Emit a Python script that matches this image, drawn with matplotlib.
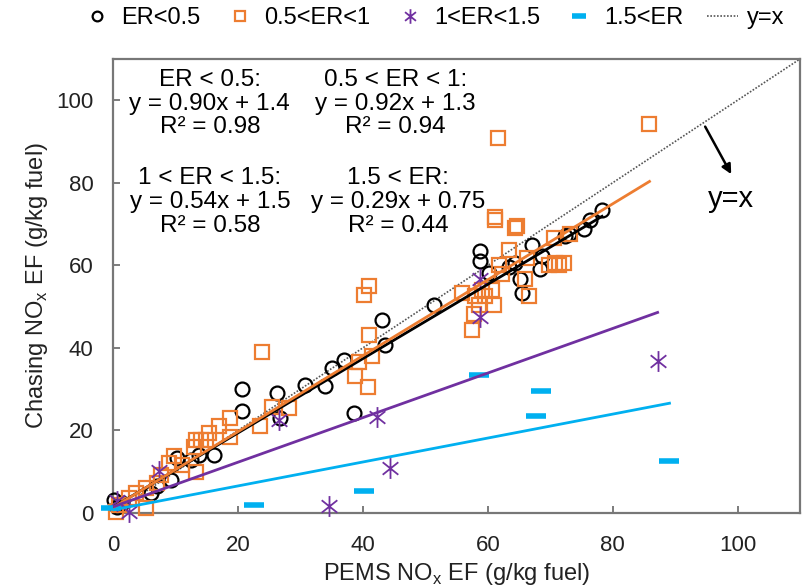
import matplotlib
matplotlib.use("Agg")
import matplotlib.pyplot as plt
import numpy as np
from matplotlib.path import Path

# ER < 0.5 (black circles)
er1_x = [0.2, 0.6, 1.5, 6.0, 7.0, 9.2, 10.3, 12.4, 13.8, 16.2, 20.7, 20.7, 26.3, 26.8, 30.8, 34.0,
         35.1, 37.0, 38.6, 43.1, 43.5, 51.4, 58.8, 58.8, 60.2, 63.4, 64.4, 65.2, 65.5, 67.1, 68.4,
         68.7, 72.4, 73.0, 75.4, 76.4, 78.3]
er1_y = [3.2, 1.5, 2.5, 4.8, 6.5, 8.0, 13.3, 12.9, 14.1, 14.1, 30.0, 24.6, 29.0, 23.0, 31.1, 30.7,
         35.1, 37.1, 24.2, 46.8, 40.8, 50.5, 63.4, 61.0, 58.2, 59.5, 60.6, 56.6, 53.3, 65.0, 59.1,
         62.2, 67.1, 67.5, 68.7, 71.1, 73.5]

# 0.5 < ER < 1 (orange squares)
er2_x = [0.4, 1.0, 2.6, 3.6, 5.2, 5.2, 7.1, 7.6, 9.0, 9.8, 11.1, 13.2, 13.0, 13.2, 14.0, 14.8,
         15.4, 17.0, 18.8, 18.7, 23.6, 23.9, 25.4, 28.2, 38.8, 39.4, 40.2, 40.8, 41.0, 41.0, 41.4,
         55.9, 57.5, 57.8, 58.0, 58.6, 59.1, 59.5, 60.6, 61.0, 61.1, 61.2, 61.7, 61.8, 62.3, 63.4,
         64.4, 64.7, 66.0, 66.3, 66.6, 69.8, 70.6, 70.8, 71.4, 72.2, 73.1, 85.9]
er2_y = [0.3, 1.9, 3.6, 4.8, 6.0, 1.1, 7.2, 9.2, 12.1, 13.7, 11.7, 10.0, 16.1, 17.7, 17.7, 17.7,
         19.3, 21.0, 18.5, 23.0, 21.0, 38.9, 25.6, 25.4, 33.1, 36.7, 52.9, 30.6, 54.9, 43.2, 38.1,
         53.3, 44.4, 48.1, 52.5, 50.5, 54.1, 52.5, 54.1, 50.5, 71.8, 71.1, 90.9, 60.2, 57.8, 63.8,
         69.1, 69.5, 56.6, 61.8, 52.5, 60.2, 66.7, 60.6, 60.2, 60.6, 67.5, 94.3]

# 1 < ER < 1.5 (purple stars)
er3_x = [0.6, 2.6, 7.4, 26.6, 34.6, 42.2, 44.3, 58.8, 58.8, 87.2]
er3_y = [3.0, 0.3, 10.2, 22.5, 1.7, 23.3, 11.0, 56.6, 47.6, 36.9]

# 1.5 < ER (cyan dashes)
er4_x = [-0.4, 22.6, 40.2, 58.6, 67.7, 68.6, 89.1]
er4_y = [1.1, 1.9, 5.3, 33.5, 23.5, 29.6, 12.7]

# fitted lines: slope, intercept, end of x range
fits = [(0.90, 1.4, 78.3), (0.92, 1.3, 85.9), (0.54, 1.5, 87.2), (0.29, 0.75, 89.1)]

fit_labels = ["ER < 0.5:\ny = 0.90x + 1.4\nR² = 0.98",
              "0.5 < ER < 1:\ny = 0.92x + 1.3\nR² = 0.94",
              "1 < ER < 1.5:\ny = 0.54x + 1.5\nR² = 0.58",
              "1.5 < ER:\ny = 0.29x + 0.75\nR² = 0.44"]

black = "#000000"
orange = "#ED7D31"
purple = "#7030A0"
cyan = "#00B0F0"
colors = [black, orange, purple, cyan]

# asterisk marker: vertical bar plus an X
star = Path([(0, -1), (0, 1), (-0.75, -0.6), (0.75, 0.6), (-0.75, 0.6), (0.75, -0.6)],
            [Path.MOVETO, Path.LINETO, Path.MOVETO, Path.LINETO, Path.MOVETO, Path.LINETO])

plt.rcParams["font.family"] = ["Liberation Sans", "DejaVu Sans"]

fig = plt.figure(figsize=(8.02, 5.88), dpi=100)
ax = fig.add_axes([0.141, 0.1276, 0.8565, 0.7721])

ax.plot(er1_x, er1_y, "o", ms=10, mfc="none", mec=black, mew=1.6, label="ER<0.5", clip_on=False, zorder=3)
ax.plot(er2_x, er2_y, "s", ms=10, mfc="none", mec=orange, mew=1.6, label="0.5<ER<1", clip_on=False, zorder=3)
ax.plot(er3_x, er3_y, marker=star, ls="none", ms=15, mec=purple, mew=1.3, label="1<ER<1.5", clip_on=False, zorder=3)
ax.plot(er4_x, er4_y, marker="_", ls="none", ms=14, mec=cyan, mew=4, label="1.5<ER", clip_on=False, zorder=3)

xs = np.linspace(0, 110, 2)
ax.plot(xs, xs, ls=(0, (1, 1)), color="#555555", lw=1.2, label="y=x", zorder=2)

for (m, b, xe), c in zip(fits, colors):
    fx = np.array([0, xe])
    ax.plot(fx, m * fx + b, color=c, lw=2, zorder=4)

pos = [(15.5, 99.2), (45.2, 99.2), (15.5, 75.3), (45.6, 75.3)]
for (tx, ty), t in zip(pos, fit_labels):
    ax.text(tx, ty, t, ha="center", va="center", fontsize=17.5, linespacing=1.1)

ax.annotate("", xy=(99.2, 81.5), xytext=(94.6, 94.2),
            arrowprops=dict(arrowstyle="-|>", color="black", lw=1.8, mutation_scale=14))
ax.text(99.0, 76, "y=x", fontsize=21, ha="center", va="center")

ax.set_xlim(0, 110)
ax.set_ylim(0, 110)
ax.set_xticks([0, 20, 40, 60, 80, 100])
ax.set_yticks([0, 20, 40, 60, 80, 100])
ax.tick_params(direction="in", length=5, width=1.2, color="#666666", labelsize=16, labelcolor="#222222")
ax.tick_params(axis="x", pad=16)
ax.tick_params(axis="y", pad=14)
for s in ax.spines.values():
    s.set_color("#777777")
    s.set_linewidth(1.6)

ax.set_xlabel("PEMS NO$_\\mathregular{x}$ EF (g/kg fuel)", fontsize=17, color="#222222")
ax.set_ylabel("Chasing NO$_\\mathregular{x}$ EF (g/kg fuel)", fontsize=17, color="#222222")
ax.xaxis.set_label_coords(0.5, -0.105)
ax.yaxis.set_label_coords(-0.092, 0.5)

fig.legend(loc="center", bbox_to_anchor=(0.54, 0.969), ncol=5, frameon=False, fontsize=17,
           handlelength=1.3, columnspacing=1.0, handletextpad=0.4, markerscale=0.7)

fig.savefig("out.png", dpi=100)
